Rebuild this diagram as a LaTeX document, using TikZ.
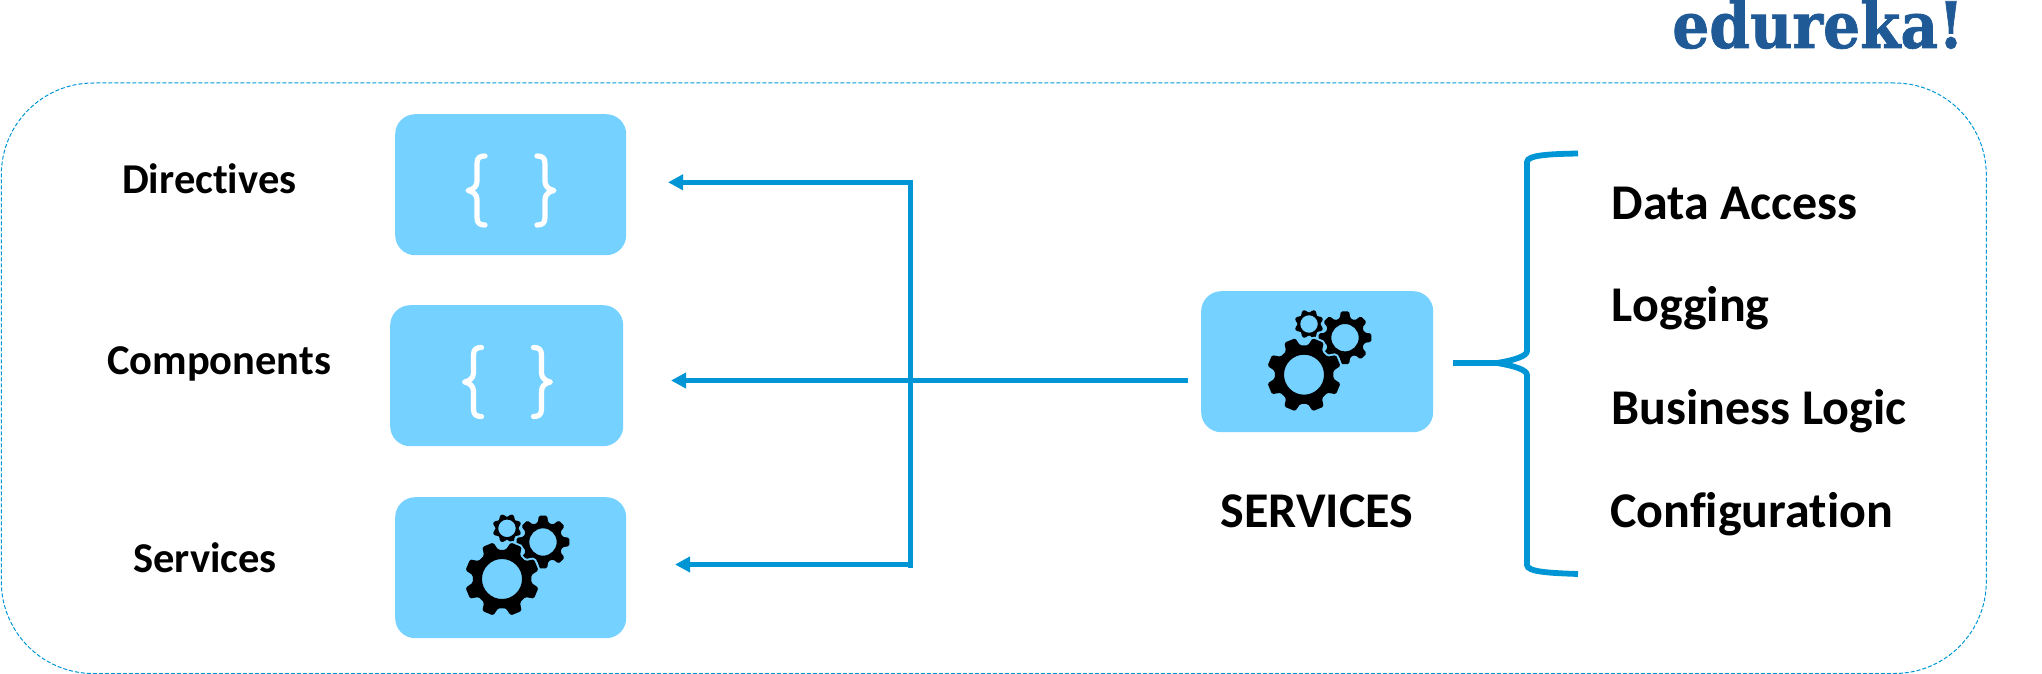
\documentclass[tikz,border=0pt]{standalone}
\usepackage{fontspec}
\usepackage{graphicx}
\setmainfont[Ligatures=NoCommon]{Carlito}
\newfontfamily\logofont[BoldFeatures={FakeBold=1.2}]{DejaVu Serif}
\usetikzlibrary{arrows.meta}
\definecolor{boxblue}{RGB}{117,209,255}
\definecolor{lineblue}{RGB}{0,150,214}
\definecolor{logoblue}{RGB}{31,90,150}
\tikzset{
  iconbox/.style={fill=boxblue,rounded corners=20pt,inner sep=0pt,minimum width=231pt,minimum height=141pt,anchor=north west},
  smalllabel/.style={anchor=base west,inner sep=0pt,font=\fontsize{42.5}{48}\selectfont\bfseries,text=black},
  biglabel/.style={anchor=base west,inner sep=0pt,font=\fontsize{50}{56}\selectfont\bfseries,text=black},
  link/.style={draw=lineblue,line width=5.4pt},
  linkarrow/.style={link,-{Triangle[length=15pt,width=15pt]}},
  pics/curlies/.style={code={
    \foreach \s in {1,-1}{
      \draw[white,line width=5.2pt,line cap=round,line join=round,xscale=\s]
        (-26,-34.5) .. controls (-31,-34.5) and (-34,-33) .. (-34,-27) -- (-34,-9)
        .. controls (-34,-4) and (-38,-1) .. (-43,0)
        .. controls (-38,1) and (-34,4) .. (-34,9) -- (-34,27)
        .. controls (-34,33) and (-31,34.5) .. (-26,34.5);
    }
  }},
  pics/gears/.style={code={
    \onegear{41}{-37}{26.7}{20}{13.7}{0}{}
    \onegear{5}{-50.7}{14.7}{11.5}{8.8}{22.5}{}
    \onegear{0}{0}{37.5}{29.5}{20}{22.5}{preaction={draw=boxblue,line width=4pt}}
  }}
}
\newcommand{\onegear}[7]{%
  \fill[black,even odd rule,rounded corners=1.5pt,shift={(#1,#2)},#7]
    (#6-17:#4) \foreach \k in {0,...,7}{
      -- ({#6+45*\k-15}:#4) -- ({#6+45*\k-9}:#3) -- ({#6+45*\k+9}:#3) -- ({#6+45*\k+15}:#4)
    } -- cycle (0,0) circle[radius=#5];
}
\begin{document}
\begin{tikzpicture}[x=1pt,y=-1pt]
\useasboundingbox (0,0) rectangle (2042,674);
\node[draw=lineblue,line width=1pt,dash pattern=on 4pt off 2pt,rounded corners=92pt,inner sep=0pt,
      minimum width=1985pt,minimum height=590.5pt,anchor=north west] (frame) at (0.8,82.5) {};

\node[iconbox] (dirbox) at (395,114) {};
\node[iconbox,minimum width=233pt] (compbox) at (390,305) {};
\node[iconbox] (servbox) at (395,497) {};
\node[iconbox,minimum width=232pt] (mainbox) at (1201,291) {};

\pic at (511,190.5) {curlies};
\pic at (507.5,382) {curlies};
\pic at (502,579) {gears};
\pic at (1304,374.7) {gears};

\node[smalllabel] (dirlabel) at (122,193.5) {Directives};
\node[smalllabel] (complabel) at (107,374.5) {Components};
\node[smalllabel] (servlabel) at (133,572.5) {Services};
\node[biglabel] (maintitle) at (1220.5,527.5) {SERVICES};
\node[biglabel] (data) at (1611.5,219.5) {Data Access};
\node[biglabel] (logging) at (1611.5,321.5) {Logging};
\node[biglabel] (business) at (1611.5,424.5) {Business Logic};
\node[biglabel] (config) at (1610,527) {Configuration};
\node[anchor=base east,inner sep=0pt,text=logoblue] (logo) at (1964,48)
  {\scalebox{0.91}[1]{\logofont\bfseries\fontsize{64}{70}\selectfont edureka!}};

% connectors
\coordinate (mainout) at (1188,380.5);
\coordinate (trunktop) at (910.5,179.5);
\coordinate (trunkbottom) at (910.5,568);
\coordinate (tiptop) at (668,182.3);
\coordinate (tipmid) at (671,380.5);
\coordinate (tipbottom) at (675,564.5);
\draw[link] (trunktop) -- (trunkbottom);
\draw[linkarrow] (trunktop |- tiptop) -- (tiptop);
\draw[linkarrow] (mainout) -- (tipmid);
\draw[linkarrow] (trunkbottom |- tipbottom) -- (tipbottom);

\coordinate (bracestem) at (1453,363);
\coordinate (bracetip) at (1497,363);
\draw[link,line width=6.5pt] (bracestem) -- (bracetip);
\draw[link,line width=5.8pt,line join=miter]
  (1578,153.5) .. controls (1550,154) and (1527,155) .. (1527,162)
  -- (1527,351) .. controls (1527,356) and (1515,360) .. (bracetip)
  .. controls (1515,366) and (1527,370) .. (1527,375)
  -- (1527,565) .. controls (1527,572) and (1550,573) .. (1578,574);
\end{tikzpicture}
\end{document}
